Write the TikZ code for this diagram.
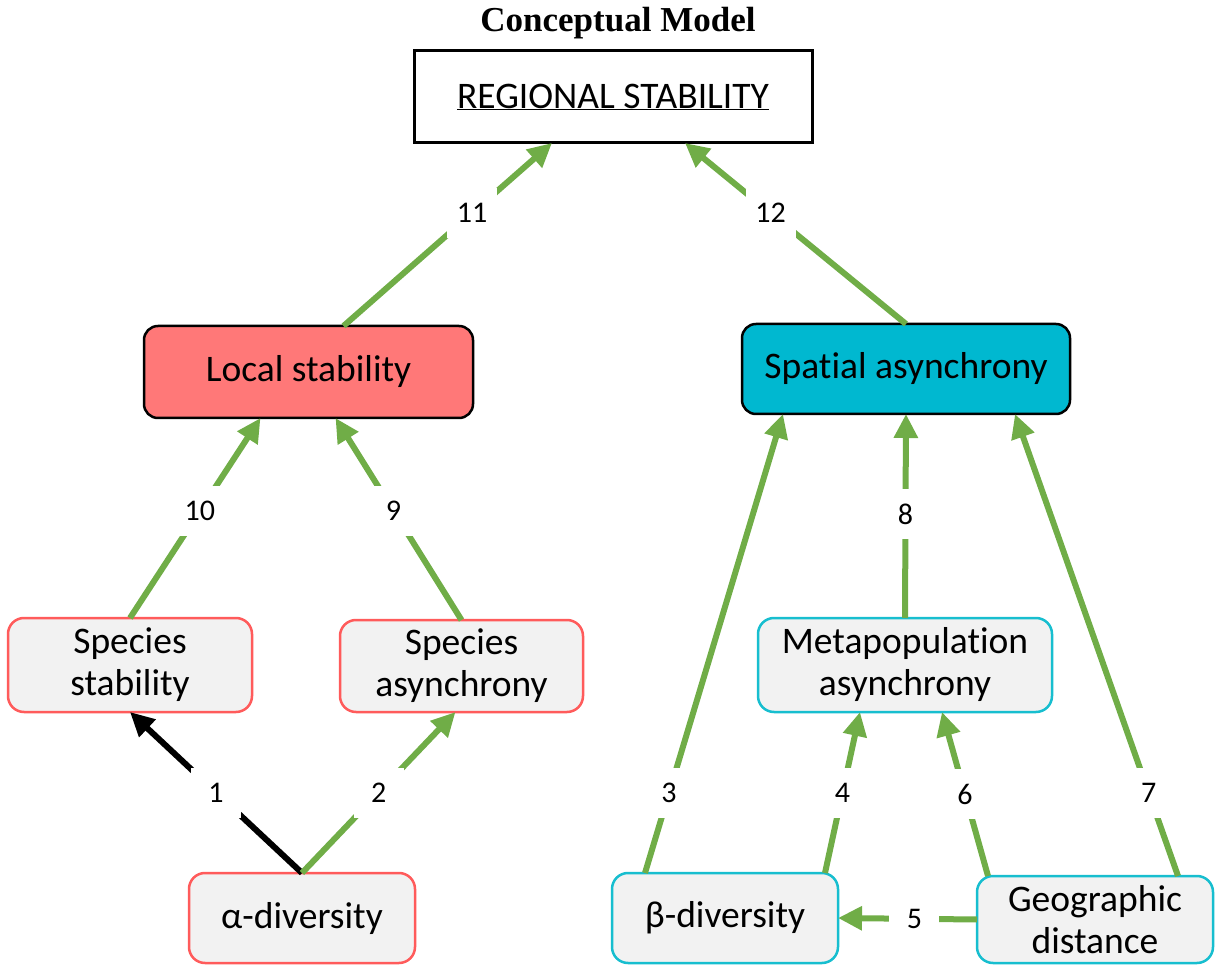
\documentclass[tikz,border=0pt]{standalone}
\usepackage{fontspec}
\setmainfont{Carlito}[Ligatures=NoCommon]
\newfontfamily\titlefont{Liberation Serif}
\usetikzlibrary{arrows.meta}

\definecolor{linkgreen}{HTML}{70AD47}
\definecolor{localred}{HTML}{FF7878}
\definecolor{spatialcyan}{HTML}{00B8D0}
\definecolor{edgered}{HTML}{FF5B5B}
\definecolor{edgecyan}{HTML}{17BECF}
\definecolor{boxgray}{HTML}{F2F2F2}

\newcommand\boxtxt{\fontsize{37.5}{42}\selectfont}
\newcommand\numtxt{\fontsize{30}{34}\selectfont}

\tikzset{
  basebox/.style={line width=2.5pt, inner sep=0pt, outer sep=0pt, align=center, font=\boxtxt},
  topbox/.style={basebox, draw=black, fill=white, line width=3pt},
  mainbox/.style={basebox, draw=black, rounded corners=14pt},
  redbox/.style={basebox, draw=edgered, fill=boxgray, rounded corners=16pt},
  cyanbox/.style={basebox, draw=edgecyan, fill=boxgray, rounded corners=16pt},
  link/.style={line width=6pt, draw=linkgreen, -{Triangle[length=24pt,width=23pt]}},
  num/.style={fill=white, font=\numtxt, inner sep=0pt, minimum width=50pt, minimum height=50pt}
}

\begin{document}
\begin{tikzpicture}[x=1pt,y=-1pt]
\useasboundingbox (0,0) rectangle (1219,965);

% top of the model
\node[font=\titlefont\bfseries\fontsize{35}{40}\selectfont] (title) at (618,23) {Conceptual Model};
\node[topbox, minimum width=398pt, minimum height=92pt] (reg) at (613,97) {\underline{REGIONAL STABILITY}};

% middle row
\node[mainbox, fill=localred, minimum width=329pt, minimum height=92pt] (loc) at (308.5,372) {Local stability};
\node[mainbox, fill=spatialcyan, minimum width=328pt, minimum height=90pt] (spa) at (906,369) {Spatial asynchrony};

% lower row
\node[redbox, minimum width=244pt, minimum height=94pt] (sst) at (130,665) {Species\\stability};
\node[redbox, minimum width=243pt, minimum height=92pt] (sas) at (461.5,666) {Species\\asynchrony};
\node[cyanbox, minimum width=294pt, minimum height=94pt] (met) at (905,665) {Metapopulation\\asynchrony};

% bottom row
\node[redbox, minimum width=226pt, minimum height=90pt] (alp) at (302,918) {α-diversity};
\node[cyanbox, minimum width=226pt, minimum height=90pt] (bet) at (725,918) {β-diversity};
\node[cyanbox, minimum width=236pt, minimum height=87pt] (geo) at (1095,919.5) {Geographic\\distance};

% paths
\draw[link, draw=black] (alp.north) -- node[num, pos=0.5] {1} (sst.south);
\draw[link] (alp.north) -- node[num, pos=0.5] {2} ([xshift=-6pt]sas.south);
\draw[link] ([xshift=-80pt]bet.north) -- node[num, pos=0.174] {3} ([xshift=-123pt]spa.south);
\draw[link] ([xshift=100pt]bet.north) -- node[num, pos=0.5] {4} ([xshift=-45pt]met.south);
\draw[link] (geo.west) -- node[num, pos=0.45] {5} (bet.east);
\draw[link] ([xshift=-107pt]geo.north) -- node[num, pos=0.5] {6} ([xshift=37pt]met.south);
\draw[link] ([xshift=83pt]geo.north) -- node[num, pos=0.18] {7} ([xshift=109pt]spa.south);
\draw[link] (met.north) -- node[num, pos=0.51] {8} (spa.south);
\draw[link] (sas.north) -- node[num, pos=0.54] {9} ([xshift=27pt]loc.south);
\draw[link] (sst.north) -- node[num, pos=0.535] {10} ([xshift=-48pt]loc.south);
\draw[link] ([xshift=35pt]loc.north) -- node[num, pos=0.617] {11} ([xshift=-61pt]reg.south);
\draw[link] (spa.north) -- node[num, pos=0.613] {12} ([xshift=72pt]reg.south);

\end{tikzpicture}
\end{document}
